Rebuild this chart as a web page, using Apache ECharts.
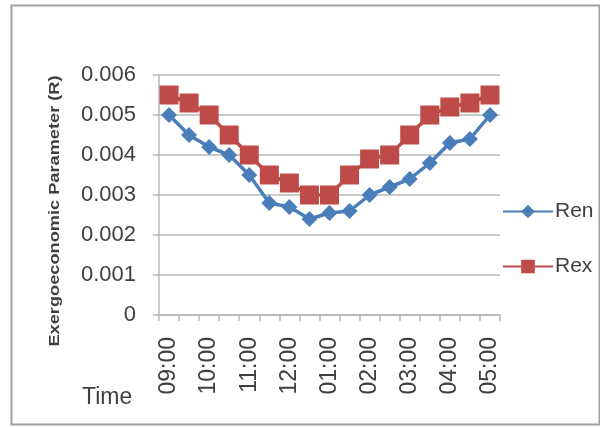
<!DOCTYPE html>
<html>
<head>
<meta charset="utf-8">
<script src="https://cdn.jsdelivr.net/npm/echarts@6/dist/echarts.min.js"></script>
<style>html,body{margin:0;padding:0;background:#fff;}#c{width:600px;height:427px;}</style>
</head>
<body>
<div id="c"></div>
<script>
var categories = ['09:00','09:30','10:00','10:30','11:00','11:30','12:00','12:30','01:00','01:30','02:00','02:30','03:00','03:30','04:00','04:30','05:00'];
var renValues = [0.0050,0.0045,0.0042,0.0040,0.0035,0.0028,0.0027,0.0024,0.00255,0.0026,0.0030,0.0032,0.0034,0.0038,0.0043,0.0044,0.0050];
var rexValues = [0.0055,0.0053,0.0050,0.0045,0.0040,0.0035,0.0033,0.0030,0.0030,0.0035,0.0039,0.0040,0.0045,0.0050,0.0052,0.0053,0.0055];
var yTicks = [0,0.001,0.002,0.003,0.004,0.005,0.006];
var seriesNames = ['Ren','Rex'];
var yTitle = 'Exergoeconomic Parameter (R)';
var xTitle = 'Time';

var chart = echarts.init(document.getElementById('c'), null, {renderer:'canvas'});
var font = 'Liberation Sans';
var txt = '#404040';
var gridCol = '#b8b8b8';
chart.setOption({
  animation: false,
  backgroundColor: '#fff',
  textStyle: {fontFamily: font},
  grid: {left: 159, right: 100, top: 75, bottom: 112, containLabel: false},
  legend: {
    orient: 'vertical', left: 497, top: 196, itemWidth: 50, itemHeight: 17, itemGap: 34,
    data: seriesNames,
    textStyle: {fontFamily: font, fontSize: 21, color: txt, padding: [0,0,0,-3]}
  },
  xAxis: {
    type: 'category', data: categories, boundaryGap: true,
    axisLine: {lineStyle: {color: gridCol, width: 1.5}},
    axisTick: {show: true, interval: 0, length: 6, lineStyle: {color: gridCol, width: 1.5}},
    axisLabel: {interval: 1, rotate: 90, margin: 22, fontFamily: font, fontSize: 23, color: txt},
    splitLine: {show: false}
  },
  yAxis: {
    type: 'value', min: yTicks[0], max: yTicks[yTicks.length-1], interval: 0.001,
    axisLine: {show: true, lineStyle: {color: gridCol, width: 1.5}},
    axisTick: {show: true, inside: false, length: 6, lineStyle: {color: gridCol, width: 1.5}},
    axisLabel: {margin: 23, fontFamily: font, fontSize: 22, color: txt,
      formatter: function(v){ return v === 0 ? '0' : v.toFixed(3); }},
    splitLine: {show: true, lineStyle: {color: gridCol, width: 1.5}}
  },
  graphic: [
    {type: 'rect', shape: {x: 11.5, y: 5.5, width: 588, height: 419},
     style: {fill: 'none', stroke: '#a0a0a0', lineWidth: 2}, silent: true},
    {type: 'text', x: 55, y: 211, rotation: Math.PI/2, scaleX: 1.3, scaleY: 1.05,
     style: {text: yTitle, fontFamily: 'Liberation Sans', fontWeight: 'bold', fontSize: 14,
       fill: '#404040', align: 'center', verticalAlign: 'middle'}},
    {type: 'text', left: 82, top: 386,
     style: {text: xTitle, fontFamily: font, fontSize: 23, fill: txt}}
  ],
  series: [
    {name: seriesNames[0], type: 'line', data: renValues, symbol: 'diamond', symbolSize: 16,
     showAllSymbol: true,
     itemStyle: {color: '#4a7ebb'}, lineStyle: {color: '#4a7ebb', width: 3.5}},
    {name: seriesNames[1], type: 'line', data: rexValues, symbol: 'rect', symbolSize: 19,
     showAllSymbol: true,
     itemStyle: {color: '#be4b48'}, lineStyle: {color: '#be4b48', width: 3.5}}
  ]
});
</script>
</body>
</html>
